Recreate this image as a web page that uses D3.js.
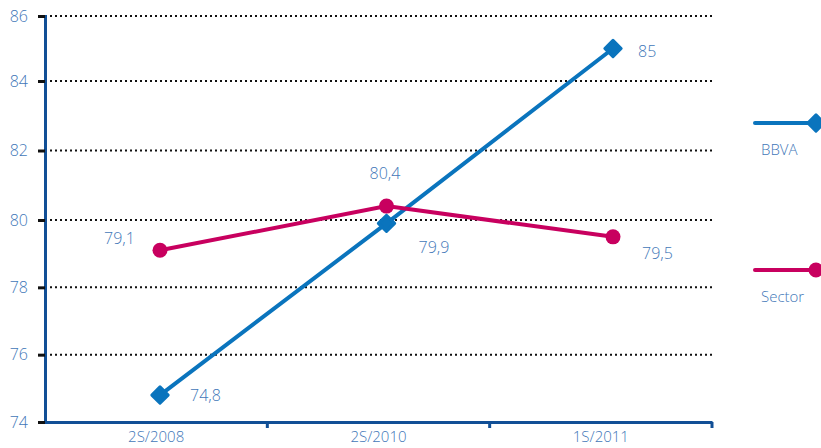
<!DOCTYPE html>
<html><head><meta charset="utf-8">
<script src="https://cdn.jsdelivr.net/npm/d3@7"></script>
<style>body{margin:0;background:#fff}svg{display:block}text{font-family:"Open Sans",Lato,sans-serif;font-weight:300;fill:#4277b8}</style>
</head><body><svg id="c" width="821" height="448"></svg>
<script>
const categories = ["2S/2008","2S/2010","1S/2011"];
const bbva = [74.8, 79.9, 85];
const sector = [79.1, 80.4, 79.5];
const bbvaLabels = ["74,8","79,9","85"];
const sectorLabels = ["79,1","80,4","79,5"];
const yTicks = [74,76,78,80,82,84,86];
const seriesNames = ["BBVA","Sector"];

const svg = d3.select("#c");
const blue = "#0a74bd", pink = "#c8005f", axisCol = "#114f96", txt = "#4277b8";
const x = d3.scaleBand().domain(categories).range([45,712]);
const xp = d3.scalePoint().domain(categories).range([160,613]);
const y = d3.scaleLinear().domain([74,80,84,86]).range([422,220,81,16]);

// gridlines
svg.append("g").selectAll("line").data(yTicks.slice(1)).join("line")
  .attr("x1",45).attr("x2",712).attr("y1",d=>y(d)).attr("y2",d=>y(d))
  .attr("stroke","#111").attr("stroke-width",2).attr("stroke-dasharray","2,3");

// y axis
const ya = svg.append("g").attr("transform","translate(45,0)")
  .call(d3.axisLeft(y).tickValues(yTicks).tickSize(7).tickPadding(10).tickFormat(d3.format("d")));
ya.select(".domain").attr("stroke",axisCol).attr("stroke-width",3);
ya.selectAll(".tick line").attr("stroke","#111").attr("stroke-width",3);
ya.selectAll(".tick text").style("font-size","16px").attr("fill",txt);

// x axis
const xa = svg.append("g").attr("transform","translate(0,422)")
  .call(d3.axisBottom(x).tickSize(0).tickPadding(9));
xa.select(".domain").attr("stroke",axisCol).attr("stroke-width",3);
xa.selectAll(".tick text").style("font-size","15px").attr("fill",txt);
svg.append("g").selectAll("line").data(categories.slice(1).concat(["_end"])).join("line")
  .attr("x1",(d,i)=>i<2?x(categories[i+1]):x.range()[1]).attr("x2",(d,i)=>i<2?x(categories[i+1]):x.range()[1])
  .attr("y1",422).attr("y2",428).attr("stroke",axisCol).attr("stroke-width",3);

const line = d3.line().x((d,i)=>xp(categories[i])).y(d=>y(d));
const diamond = d3.symbol().type(d3.symbolDiamond2).size(170);

// BBVA
svg.append("path").datum(bbva).attr("d",line).attr("fill","none").attr("stroke",blue).attr("stroke-width",4);
svg.append("g").selectAll("path").data(bbva).join("path")
  .attr("d",diamond).attr("transform",(d,i)=>`translate(${xp(categories[i])},${y(d)})`)
  .attr("fill",blue).attr("stroke",blue).attr("stroke-width",3).attr("stroke-linejoin","round");
// Sector
svg.append("path").datum(sector).attr("d",line).attr("fill","none").attr("stroke",pink).attr("stroke-width",4);
svg.append("g").selectAll("circle").data(sector).join("circle")
  .attr("cx",(d,i)=>xp(categories[i])).attr("cy",d=>y(d)).attr("r",7.5).attr("fill",pink);

// labels
const bOff = [[30,6],[32,30],[25,8]];
const sOff = [[-56,-6],[-17,-27],[29,22]];
svg.append("g").selectAll("text").data(bbva).join("text")
  .attr("x",(d,i)=>xp(categories[i])+bOff[i][0]).attr("y",(d,i)=>y(d)+bOff[i][1])
  .style("font-size","16px").text((d,i)=>bbvaLabels[i]);
svg.append("g").selectAll("text").data(sector).join("text")
  .attr("x",(d,i)=>xp(categories[i])+sOff[i][0]).attr("y",(d,i)=>y(d)+sOff[i][1])
  .style("font-size","16px").text((d,i)=>sectorLabels[i]);

// legend
const leg = [{name:seriesNames[0],c:blue,yy:123,sym:"d"},{name:seriesNames[1],c:pink,yy:270,sym:"c"}];
leg.forEach(l=>{
  svg.append("line").attr("x1",755).attr("x2",815).attr("y1",l.yy).attr("y2",l.yy)
    .attr("stroke",l.c).attr("stroke-width",4).attr("stroke-linecap","round");
  if(l.sym==="d") svg.append("path").attr("d",diamond).attr("transform",`translate(816,${l.yy})`)
      .attr("fill",l.c).attr("stroke",l.c).attr("stroke-width",3).attr("stroke-linejoin","round");
  else svg.append("circle").attr("cx",816).attr("cy",l.yy).attr("r",7.5).attr("fill",l.c);
  svg.append("text").attr("x",761).attr("y",l.yy+32).style("font-size","15px").text(l.name);
});
</script></body></html>
